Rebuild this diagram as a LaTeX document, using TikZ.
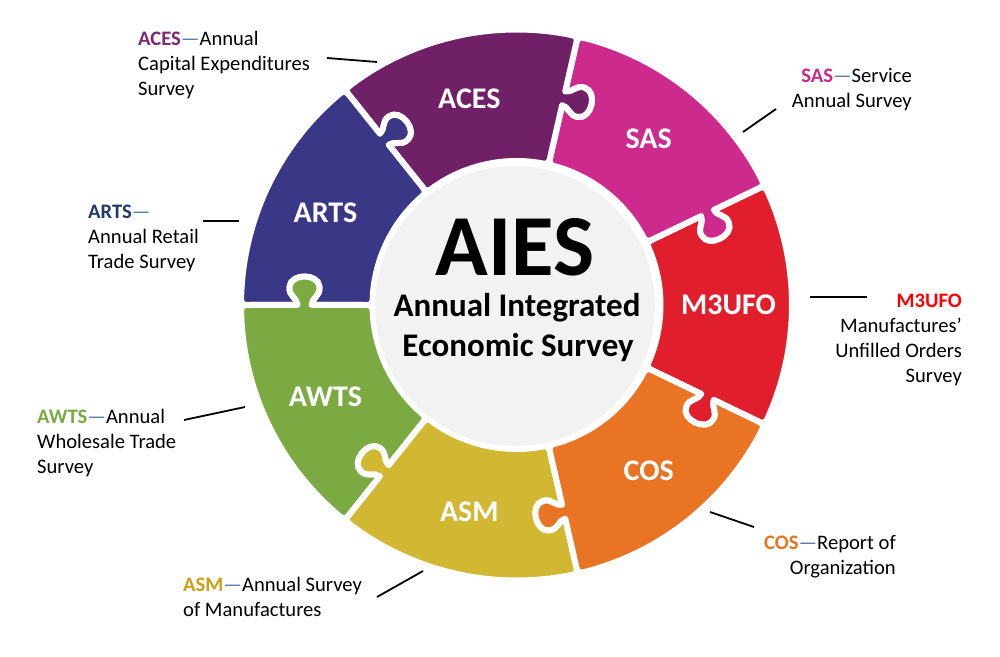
\documentclass[tikz,border=0pt]{standalone}
\usepackage{fontspec}
\setmainfont{Carlito}
\definecolor{acesC}{HTML}{6F2066}
\definecolor{sasC}{HTML}{CC2A8D}
\definecolor{mufoC}{HTML}{E01E2C}
\definecolor{cosC}{HTML}{E87424}
\definecolor{asmC}{HTML}{D2B732}
\definecolor{awtsC}{HTML}{7BAA43}
\definecolor{artsC}{HTML}{3A3886}
\definecolor{acesT}{HTML}{7B2A73}
\definecolor{artsT}{HTML}{1F3B6A}
\definecolor{sasT}{HTML}{C8298A}
\definecolor{mufoT}{HTML}{FF0000}
\definecolor{cosT}{HTML}{E87424}
\definecolor{awtsT}{HTML}{78AA44}
\definecolor{asmT}{HTML}{C9A012}
\definecolor{dashC}{HTML}{4A76A8}
\definecolor{greyC}{HTML}{F2F2F2}
\newcommand\puzzlepiece[2]{%
  \pgfmathsetmacro\pa{#1-25.7143}%
  \pgfmathsetmacro\pb{#1+25.7143}%
  \pgfmathsetmacro\pao{\pa+2.1}%
  \pgfmathsetmacro\pbo{\pb-2.1}%
  \pgfmathsetmacro\pai{\pa+4.0}%
  \pgfmathsetmacro\pbi{\pb-4.0}%
  \fill[#2, draw=white, line width=6pt, line join=round]
    ([rotate=\pa]154,0) -- ([rotate=\pa]205,0)
    .. controls ([rotate=\pa]205,-7) and ([rotate=\pa]196,-9) .. ([rotate=\pa]197,-18)
    .. controls ([rotate=\pa]198,-32) and ([rotate=\pa]226,-32) .. ([rotate=\pa]227,-18)
    .. controls ([rotate=\pa]228,-9) and ([rotate=\pa]219,-7) .. ([rotate=\pa]219,0)
    -- ([rotate=\pa]265,0)
    .. controls ([rotate=\pa]275.5,0) .. (\pao:275.5)
    arc[start angle=\pao, end angle=\pbo, radius=275.5]
    .. controls ([rotate=\pb]275.5,0) .. ([rotate=\pb]265,0)
    -- ([rotate=\pb]219,0)
    .. controls ([rotate=\pb]219,-7) and ([rotate=\pb]228,-9) .. ([rotate=\pb]227,-18)
    .. controls ([rotate=\pb]226,-32) and ([rotate=\pb]198,-32) .. ([rotate=\pb]197,-18)
    .. controls ([rotate=\pb]196,-9) and ([rotate=\pb]205,-7) .. ([rotate=\pb]205,0)
    -- ([rotate=\pb]154,0)
    .. controls ([rotate=\pb]144,0) .. (\pbi:144)
    arc[start angle=\pbi, end angle=\pai, radius=144]
    .. controls ([rotate=\pa]144,0) .. ([rotate=\pa]154,0) -- cycle;
}
\begin{document}
\begin{tikzpicture}[x=1pt, y=1pt,
  piecelabel/.style={text=white, font=\fontsize{30}{36}\selectfont\bfseries, inner sep=0pt},
  sidetext/.style={font=\fontsize{20.6}{25}\selectfont, inner sep=0pt},
  centretext/.style={font=\fontsize{33}{40}\selectfont\bfseries, inner sep=0pt, anchor=base},
  leader/.style={draw=black, line width=1.8pt}]
\useasboundingbox (0,0) rectangle (1000,656);
\fill[white] (0,0) rectangle (1000,656);
\begin{scope}[shift={(516.5,351)}]
  \puzzlepiece{0}{mufoC}
  \puzzlepiece{51.4286}{sasC}
  \puzzlepiece{102.8571}{acesC}
  \puzzlepiece{154.2857}{artsC}
  \puzzlepiece{205.7143}{awtsC}
  \puzzlepiece{257.1429}{asmC}
  \puzzlepiece{308.5714}{cosC}
  \fill[greyC] (-1.5,-1) circle[radius=140];
  \node[piecelabel] (mufoP) at (0:212) {M3UFO};
  \node[piecelabel] (sasP) at (51.43:212) {SAS};
  \node[piecelabel] (acesP) at (102.86:212) {ACES};
  \node[piecelabel] (artsP) at (154.29:212) {ARTS};
  \node[piecelabel] (awtsP) at (205.71:212) {AWTS};
  \node[piecelabel] (asmP) at (257.14:212) {ASM};
  \node[piecelabel] (cosP) at (308.57:212) {COS};
\end{scope}
\node[font=\fontsize{87}{90}\selectfont\bfseries, inner sep=0pt, text depth=0pt, anchor=base] (aies) at (515,380) {AIES};
\node[centretext] (aiesA) at (517,339) {Annual Integrated};
\node[centretext] (aiesB) at (518,299) {Economic Survey};
% side texts (anchor = baseline of the last line)
\node[sidetext, anchor=base west, align=left] (acesT) at (138,560)
  {\textcolor{acesT}{\bfseries ACES}\textcolor{dashC}{—}Annual\\Capital Expenditures\\Survey};
\node[sidetext, anchor=base west, align=left] (artsT) at (88,387)
  {\textcolor{artsT}{\bfseries ARTS}\textcolor{dashC}{—}\\Annual Retail\\Trade Survey};
\node[sidetext, anchor=base east, align=right] (sasT) at (912,548)
  {\textcolor{sasT}{\bfseries SAS}\textcolor{dashC}{—}Service\\Annual Survey};
\node[sidetext, anchor=base east, align=right] (mufoT) at (962,273)
  {\textcolor{mufoT}{\bfseries M3UFO}\\Manufactures’\\Unfilled Orders\\Survey};
\node[sidetext, anchor=base east, align=right] (cosT) at (896,82)
  {\textcolor{cosT}{\bfseries COS}\textcolor{dashC}{—}Report of\\Organization};
\node[sidetext, anchor=base west, align=left] (awtsT) at (37,183)
  {\textcolor{awtsT}{\bfseries AWTS}\textcolor{dashC}{—}Annual\\Wholesale Trade\\Survey};
\node[sidetext, anchor=base west, align=left] (asmT) at (183,40)
  {\textcolor{asmT}{\bfseries ASM}\textcolor{dashC}{—}Annual Survey\\of Manufactures};
% leader lines
\coordinate (acesA) at (327,598); \coordinate (acesB) at (377,594);
\coordinate (artsA) at (203,435); \coordinate (artsB) at (239,435);
\coordinate (sasA) at (776,547); \coordinate (sasB) at (743,524);
\coordinate (mufoA) at (810,359); \coordinate (mufoB) at (867,359);
\coordinate (cosA) at (710,144); \coordinate (cosB) at (754,129);
\coordinate (asmA) at (377,59); \coordinate (asmB) at (423,85);
\coordinate (awtsA) at (184,236); \coordinate (awtsB) at (245,249);
\draw[leader] (acesA) -- (acesB);
\draw[leader] (artsA) -- (artsB);
\draw[leader] (sasA) -- (sasB);
\draw[leader] (mufoA) -- (mufoB);
\draw[leader] (cosA) -- (cosB);
\draw[leader] (asmA) -- (asmB);
\draw[leader] (awtsA) -- (awtsB);
\end{tikzpicture}
\end{document}
